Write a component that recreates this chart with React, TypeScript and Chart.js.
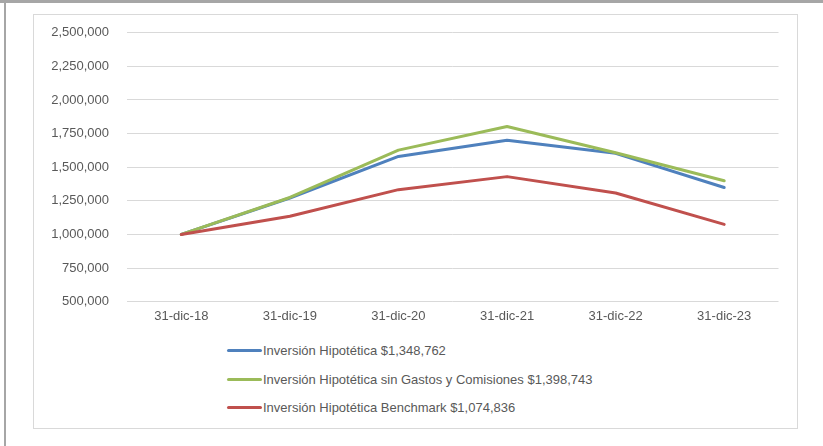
import React, { useEffect, useRef } from "react";
import { Chart, registerables } from "chart.js";

Chart.register(...registerables);

const categories = ["31-dic-18", "31-dic-19", "31-dic-20", "31-dic-21", "31-dic-22", "31-dic-23"];
const inversion = [1000000, 1271000, 1580000, 1700000, 1603000, 1348762];
const sinGastos = [1000000, 1275000, 1627000, 1802000, 1607000, 1398743];
const benchmark = [1000000, 1135000, 1333000, 1430000, 1308000, 1074836];
const seriesNames = [
  "Inversión Hipotética $1,348,762",
  "Inversión Hipotética sin Gastos y Comisiones $1,398,743",
  "Inversión Hipotética Benchmark $1,074,836",
];
const seriesColors = ["#4F81BD", "#9BBB59", "#C0504D"];
const yMin = 500000;
const yMax = 2500000;
const yStep = 250000;

const FONT = "'Liberation Sans', Arial, sans-serif";
const TEXT = "#595959";

export default function App() {
  const ref = useRef<HTMLCanvasElement | null>(null);

  useEffect(() => {
    if (!ref.current) return;
    const chart = new Chart(ref.current, {
      type: "line",
      data: {
        labels: categories,
        datasets: [
          { label: seriesNames[0], data: inversion, borderColor: seriesColors[0], order: 2 },
          { label: seriesNames[1], data: sinGastos, borderColor: seriesColors[1], order: 1 },
          { label: seriesNames[2], data: benchmark, borderColor: seriesColors[2], order: 0 },
        ].map((d) => ({
          ...d,
          backgroundColor: d.borderColor,
          borderWidth: 3,
          pointRadius: 0,
          pointHoverRadius: 0,
          tension: 0,
          fill: false,
          borderCapStyle: "round" as const,
          borderJoinStyle: "round" as const,
        })),
      },
      options: {
        animation: false,
        responsive: false,
        maintainAspectRatio: false,
        layout: { padding: { top: 17.7, right: 17.5, left: 0, bottom: 0 } },
        plugins: { legend: { display: false }, tooltip: { enabled: false } },
        scales: {
          x: {
            offset: true,
            grid: { display: false, drawTicks: false, tickLength: 0 },
            border: { display: false },
            ticks: { color: TEXT, font: { family: FONT, size: 13 }, padding: 7, maxRotation: 0 },
            afterFit: (s: any) => {
              s.height = 33.3;
              s.paddingLeft = 0;
              s.paddingRight = 0;
            },
          },
          y: {
            min: yMin,
            max: yMax,
            grid: { color: "#D9D9D9", lineWidth: 1, drawTicks: false },
            border: { display: false },
            ticks: {
              stepSize: yStep,
              color: TEXT,
              font: { family: FONT, size: 13 },
              padding: 18,
              callback: (v: any) => Number(v).toLocaleString("en-US"),
            },
            afterFit: (s: any) => {
              s.width = 93;
              s.paddingTop = 0;
              s.paddingBottom = 0;
            },
          },
        },
      },
    });
    return () => chart.destroy();
  }, []);

  const legendTops = [350, 379, 407];

  return (
    <div style={{ position: "fixed", left: 0, top: 0, width: 823, height: 446, background: "#fff", overflow: "hidden" }}>
      <div style={{ position: "absolute", left: 0, top: 0, width: 823, height: 3, background: "#A6A6A6" }} />
      <div style={{ position: "absolute", left: 4, top: 0, width: 2, height: 446, background: "#A6A6A6" }} />
      <div
        style={{
          position: "absolute",
          left: 33,
          top: 14,
          width: 763,
          height: 413,
          border: "1px solid #D9D9D9",
        }}
      />
      <canvas
        ref={ref}
        width={762}
        height={320}
        style={{ position: "absolute", left: 34, top: 15, width: 762, height: 320 }}
      />
      {seriesNames.map((name, i) => (
        <div
          key={name}
          style={{
            position: "absolute",
            left: 227,
            top: legendTops[i] - 9,
            height: 18,
            display: "flex",
            alignItems: "center",
            whiteSpace: "nowrap",
            fontFamily: FONT,
            fontSize: 13,
            color: TEXT,
          }}
        >
          <span
            style={{
              display: "inline-block",
              width: 35,
              height: 3,
              borderRadius: 2,
              background: seriesColors[i],
              marginRight: 1,
            }}
          />
          <span>{name}</span>
        </div>
      ))}
    </div>
  );
}
